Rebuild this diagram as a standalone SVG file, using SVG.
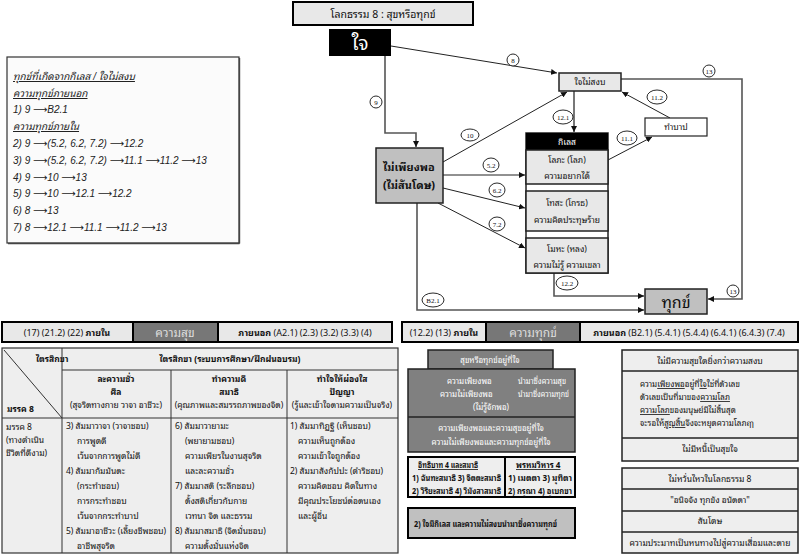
<svg xmlns="http://www.w3.org/2000/svg" width="801" height="559" viewBox="0 0 801 559">
<style>
text{font-family:"Noto Sans Thai Looped","Noto Sans Thai","Tahoma","DejaVu Sans","Liberation Sans",sans-serif;font-size:8.5px;fill:#111}
.c{text-anchor:middle}
.b{font-weight:bold}
.it{font-style:italic;font-family:"Liberation Sans","Noto Sans Thai Looped","Noto Sans Thai",sans-serif;font-size:10px;fill:#222}
.ar{font-family:"DejaVu Sans",sans-serif;font-style:normal}
.u{text-decoration:underline}
.w{fill:#fff}
.s8{font-size:8px}
.lg{fill:#e8e8e8;stroke:#222;stroke-width:1.5}
.mg{fill:#c0c0c0;stroke:#222;stroke-width:1.5}
.dg{fill:#808080;stroke:#222;stroke-width:1.5}
.bn{fill:#e8e8e8;stroke:#000;stroke-width:2}
.tb{fill:#eeeeee;stroke:#333;stroke-width:1.2}
.ln{stroke:#333;stroke-width:1}
.cn{fill:none;stroke:#222;stroke-width:1;marker-end:url(#ah)}
.cg{fill:none;stroke:#555;stroke-width:1.6;marker-end:url(#ah)}
.lb ellipse{fill:#fff;stroke:#111;stroke-width:0.9}
.lb text{font-family:"Liberation Serif",serif;font-size:7px;text-anchor:middle}
</style>
<defs>
<marker id="ah" viewBox="0 0 10 10" refX="10" refY="5" markerWidth="6" markerHeight="6" markerUnits="userSpaceOnUse" orient="auto">
<path d="M0,0 L10,5 L0,10 z" fill="#111"/>
</marker>
</defs>
<rect x="0" y="0" width="801" height="559" fill="#fff"/>

<g id="title"><rect x="293" y="2" width="180" height="23" class="bn"/><text x="383" y="18" class="c" style="font-size:10.5px">โลกธรรม 8 : สุขหรือทุกข์</text></g>

<g id="legend">
<rect x="7" y="57" width="232" height="186" fill="#fbfbfb" stroke="#333" stroke-width="1.2"/>
<line x1="239.5" y1="58" x2="239.5" y2="243.5" stroke="#444" stroke-width="1.4"/>
<line x1="8" y1="243.5" x2="239.5" y2="243.5" stroke="#444" stroke-width="1.4"/>
<text x="13" y="80" class="it u">ทุกข์ที่เกิดจากกิเลส / ใจไม่สงบ</text>
<text x="13" y="97" class="it u">ความทุกข์ภายนอก</text>
<text x="13" y="113" class="it">1)  9 <tspan class="ar">⟶</tspan>B2.1</text>
<text x="13" y="130" class="it u">ความทุกข์ภายใน</text>
<text x="13" y="147" class="it">2)  9 <tspan class="ar">⟶</tspan>(5.2,  6.2,  7.2) <tspan class="ar">⟶</tspan>12.2</text>
<text x="13" y="164" class="it">3)  9 <tspan class="ar">⟶</tspan>(5.2,  6.2,  7.2) <tspan class="ar">⟶</tspan>11.1 <tspan class="ar">⟶</tspan>11.2 <tspan class="ar">⟶</tspan>13</text>
<text x="13" y="181" class="it">4)  9 <tspan class="ar">⟶</tspan>10 <tspan class="ar">⟶</tspan>13</text>
<text x="13" y="197" class="it">5)  9 <tspan class="ar">⟶</tspan>10 <tspan class="ar">⟶</tspan>12.1 <tspan class="ar">⟶</tspan>12.2</text>
<text x="13" y="214" class="it">6)  8 <tspan class="ar">⟶</tspan>13</text>
<text x="13" y="231" class="it">7)  8 <tspan class="ar">⟶</tspan>12.1 <tspan class="ar">⟶</tspan>11.1 <tspan class="ar">⟶</tspan>11.2 <tspan class="ar">⟶</tspan>13</text>
</g>

<g id="connectors">
<line x1="391" y1="46" x2="557" y2="73" class="cn"/>
<polyline points="385,56 385,133 416,133 416,147" class="cg"/>
<line x1="443" y1="162" x2="567" y2="92" class="cn"/>
<line x1="608" y1="160" x2="652" y2="137" class="cn"/>
<line x1="670" y1="118" x2="622" y2="92" class="cn"/>
<line x1="574" y1="91" x2="574" y2="132" class="cg"/>
<line x1="443" y1="175" x2="525" y2="175" class="cn"/>
<line x1="443" y1="188" x2="525" y2="208" class="cn"/>
<line x1="438" y1="203" x2="525" y2="248" class="cn"/>
<polyline points="554,273 554,296 644,296" class="cg"/>
<polyline points="417,203 417,310 644,310" class="cg"/>
<polyline points="621,79 742,79 742,299 708,299" class="cg"/>
<g class="lb">
<ellipse cx="513" cy="60" rx="6" ry="6"/><text x="513" y="62.5">8</text>
<ellipse cx="376" cy="102" rx="6" ry="6"/><text x="376" y="104.5">9</text>
<ellipse cx="470" cy="135" rx="9" ry="6"/><text x="470" y="137.5">10</text>
<ellipse cx="657" cy="97" rx="10" ry="7"/><text x="657" y="99.5">11.2</text>
<ellipse cx="563" cy="117" rx="10" ry="7"/><text x="563" y="119.5">12.1</text>
<ellipse cx="627" cy="138" rx="10" ry="7"/><text x="627" y="140.5">11.1</text>
<ellipse cx="491" cy="165" rx="8" ry="7"/><text x="491" y="167.5">5.2</text>
<ellipse cx="497" cy="190" rx="8" ry="7"/><text x="497" y="192.5">6.2</text>
<ellipse cx="497" cy="224" rx="8" ry="7"/><text x="497" y="226.5">7.2</text>
<ellipse cx="567" cy="283" rx="11" ry="7"/><text x="567" y="285.5">12.2</text>
<ellipse cx="433" cy="300" rx="11" ry="7"/><text x="433" y="302.5">B2.1</text>
<ellipse cx="709" cy="71" rx="6" ry="6"/><text x="709" y="73.5">13</text>
<ellipse cx="733" cy="291" rx="6" ry="6"/><text x="733" y="293.5">13</text>
</g>
</g>

<g id="jai"><rect x="329" y="29" width="62" height="27" fill="#000"/><text x="360" y="50" class="c w" style="font-size:19px">ใจ</text></g>
<g id="jaimaisangob"><rect x="559" y="73" width="62" height="18" class="lg"/><text x="590" y="85" class="c">ใจไม่สงบ</text></g>
<g id="thambap"><rect x="645" y="118" width="62" height="18" fill="#fff" stroke="#222" stroke-width="1.2"/><text x="676" y="130" class="c">ทำบาป</text></g>
<g id="kilet">
<rect x="526" y="133" width="82" height="140" fill="#fff" stroke="#222" stroke-width="1.5"/>
<rect x="526" y="133" width="82" height="17" fill="#000"/><text x="567" y="145" class="c w">กิเลส</text>
<rect x="526" y="150" width="82" height="34" class="lg"/><text x="567" y="163" class="c">โลภะ (โลภ)</text><text x="567" y="179" class="c">ความอยากได้</text>
<rect x="526" y="191" width="82" height="40" class="lg"/><text x="567" y="206" class="c">โทสะ (โกรธ)</text><text x="567" y="223" class="c">ความคิดประทุษร้าย</text>
<rect x="526" y="238" width="82" height="35" class="lg"/><text x="567" y="252" class="c">โมหะ (หลง)</text><text x="567" y="268" class="c">ความไม่รู้ ความเขลา</text>
</g>
<g id="maipiangpor"><rect x="376" y="148" width="67" height="55" class="mg"/><text x="409" y="171" class="c b" style="font-size:11px">ไม่เพียงพอ</text><text x="409" y="189" class="c b" style="font-size:11px">(ไม่สันโดษ)</text></g>
<g id="thuk"><rect x="645" y="289" width="62" height="25" class="mg"/><text x="676" y="308" class="c" style="font-size:16px">ทุกข์</text></g>

<g id="banner-suk">
<rect x="2" y="322" width="131" height="20" class="bn"/><text x="67" y="336" class="c" style="font-size:9px">(17) (21.2) (22) <tspan class="b">ภายใน</tspan></text>
<rect x="133" y="322" width="85" height="20" fill="#777" stroke="#000" stroke-width="2"/><text x="175" y="337" class="c" style="font-size:12px;fill:#ddd">ความสุข</text>
<rect x="218" y="322" width="174" height="20" class="bn"/><text x="305" y="336" class="c" style="font-size:9px"><tspan class="b">ภายนอก</tspan> (A2.1) (2.3) (3.2) (3.3) (4)</text>
</g>

<g id="table">
<rect x="2" y="348" width="396" height="205" class="tb"/>
<line x1="62" y1="348" x2="62" y2="553" class="ln"/>
<line x1="62" y1="370" x2="398" y2="370" class="ln"/>
<line x1="2" y1="418" x2="398" y2="418" class="ln"/>
<line x1="171" y1="370" x2="171" y2="553" class="ln"/>
<line x1="287" y1="370" x2="287" y2="553" class="ln"/>
<line x1="4" y1="350" x2="62" y2="418" class="ln"/>
<text x="36" y="362" class="b">ไตรสิกขา</text>
<text x="7" y="412" class="b">มรรค 8</text>
<text x="230" y="362" class="c b">ไตรสิกขา (ระบบการศึกษา/ฝึกฝนอบรม)</text>
<text x="116" y="382" class="c b">ละความชั่ว</text><text x="116" y="395" class="c b">ศีล</text><text x="116" y="408" class="c">(สุจริตทางกาย วาจา อาชีวะ)</text>
<text x="229" y="382" class="c b">ทำความดี</text><text x="229" y="395" class="c b">สมาธิ</text><text x="229" y="408" class="c">(คุณภาพและสมรรถภาพของจิต)</text>
<text x="342" y="382" class="c b">ทำใจให้ผ่องใส</text><text x="342" y="395" class="c b">ปัญญา</text><text x="342" y="408" class="c">(รู้และเข้าใจตามความเป็นจริง)</text>
<text x="6" y="430">มรรค 8</text><text x="6" y="443">(ทางดำเนิน</text><text x="6" y="456">ชีวิตที่ดีงาม)</text>
<text x="66" y="429">3) สัมมาวาจา (วาจาชอบ)</text>
<text x="77" y="444">การพูดดี</text>
<text x="77" y="459">เว้นจากการพูดไม่ดี</text>
<text x="66" y="474">4) สัมมากัมมันตะ</text>
<text x="77" y="489">(กระทำชอบ)</text>
<text x="77" y="504">การกระทำชอบ</text>
<text x="77" y="519">เว้นจากกระทำบาป</text>
<text x="66" y="534">5) สัมมาอาชีวะ (เลี้ยงชีพชอบ)</text>
<text x="77" y="549">อาชีพสุจริต</text>
<text x="175" y="429">6) สัมมาวายามะ</text>
<text x="185" y="444">(พยายามชอบ)</text>
<text x="185" y="459">ความเพียรในงานสุจริต</text>
<text x="185" y="474">และละความชั่ว</text>
<text x="175" y="489">7) สัมมาสติ  (ระลึกชอบ)</text>
<text x="185" y="504">ตั้งสติเกี่ยวกับกาย</text>
<text x="185" y="519">เวทนา จิต และธรรม</text>
<text x="175" y="534">8) สัมมาสมาธิ (จิตมั่นชอบ)</text>
<text x="185" y="549">ความตั้งมั่นแห่งจิต</text>
<text x="290" y="429">1) สัมมาทิฏฐิ (เห็นชอบ)</text>
<text x="298" y="444">ความเห็นถูกต้อง</text>
<text x="298" y="459">ความเข้าใจถูกต้อง</text>
<text x="290" y="474">2) สัมมาสังกัปปะ (ดำริชอบ)</text>
<text x="298" y="489">ความคิดชอบ คิดในทาง</text>
<text x="298" y="504">มีคุณประโยชน์ต่อตนเอง</text>
<text x="298" y="519">และผู้อื่น</text>
</g>

<g id="banner-thuk">
<rect x="402" y="322" width="84" height="20" class="bn"/><text x="444" y="336" class="c" style="font-size:9px">(12.2) (13) <tspan class="b">ภายใน</tspan></text>
<rect x="486" y="322" width="94" height="20" fill="#777" stroke="#000" stroke-width="2"/><text x="533" y="337" class="c" style="font-size:12px;fill:#ddd">ความทุกข์</text>
<rect x="580" y="322" width="218" height="20" class="bn"/><text x="689" y="336" class="c" style="font-size:9px"><tspan class="b">ภายนอก</tspan> (B2.1) (5.4.1)  (5.4.4) (6.4.1) (6.4.3) (7.4)</text>
</g>

<g id="sukthuk-jai">
<rect x="428" y="350" width="125" height="19" class="dg"/><text x="490" y="363" class="c w s8">สุขหรือทุกข์อยู่ที่ใจ</text>
<rect x="408" y="369" width="167" height="83" class="dg"/>
<line x1="408" y1="417" x2="575" y2="417" stroke="#222" stroke-width="1.5"/>
<text x="447" y="384" class="w s8">ความเพียงพอ</text><text x="518" y="384" class="w s8" textLength="48" lengthAdjust="spacingAndGlyphs">นำมาซึ่งความสุข</text>
<text x="440" y="397" class="w s8">ความไม่เพียงพอ</text><text x="518" y="397" class="w s8" textLength="51" lengthAdjust="spacingAndGlyphs">นำมาซึ่งความทุกข์</text>
<text x="491" y="410" class="c w s8">(ไม่รู้จักพอ)</text>
<text x="491" y="431" class="c w s8">ความเพียงพอและความสุขอยู่ที่ใจ</text>
<text x="491" y="445" class="c w s8">ความไม่เพียงพอและความทุกข์อยู่ที่ใจ</text>
</g>

<g id="itthibat">
<rect x="408" y="457" width="97" height="40" fill="#eeeeee" stroke="#000" stroke-width="2"/>
<text x="418" y="468" class="b u s8" textLength="60" lengthAdjust="spacingAndGlyphs">อิทธิบาท 4 และสมาธิ</text>
<text x="412" y="481" class="b s8" textLength="89" lengthAdjust="spacingAndGlyphs">1) ฉันทะสมาธิ  3) จิตตะสมาธิ</text>
<text x="412" y="494" class="b s8" textLength="89" lengthAdjust="spacingAndGlyphs">2) วิริยะสมาธิ  4) วิมังสาสมาธิ</text>
</g>
<g id="phrommawihan">
<rect x="505" y="457" width="70" height="40" fill="#eeeeee" stroke="#000" stroke-width="2"/>
<text x="516" y="468" class="b u s8">พรหมวิหาร 4</text>
<text x="508" y="481" class="b s8" textLength="64" lengthAdjust="spacingAndGlyphs">1) เมตตา  3) มุทิตา</text>
<text x="508" y="494" class="b s8" textLength="64" lengthAdjust="spacingAndGlyphs">2) กรุณา  4) อุเบกขา</text>
</g>
<g id="kilet-note">
<rect x="408" y="508" width="167" height="30" fill="#c0c0c0" stroke="#000" stroke-width="2"/>
<text x="414" y="527" class="b s8" textLength="143" lengthAdjust="spacingAndGlyphs">2)  ใจมีกิเลส และความไม่สงบนำมาซึ่งความทุกข์</text>
</g>

<g id="sangob">
<rect x="622" y="350" width="176" height="111" fill="#eeeeee" stroke="#222" stroke-width="1.5"/>
<line x1="622" y1="371" x2="798" y2="371" stroke="#222" stroke-width="1.5"/>
<line x1="622" y1="438" x2="798" y2="438" stroke="#222" stroke-width="1.5"/>
<text x="710" y="364" class="c">ไม่มีความสุขใดยิ่งกว่าความสงบ</text>
<text x="640" y="387" class="s8">ความ<tspan class="u">เพียงพอ</tspan>อยู่ที่<tspan class="u">ใจ</tspan>ใช่ที่ตัวเลข</text>
<text x="640" y="400" class="s8">ตัวเลขเป็นที่มาของ<tspan class="u">ความโลภ</tspan></text>
<text x="640" y="413" class="s8"><tspan class="u">ความโลภ</tspan>ของมนุษย์มีไม่สิ้นสุด</text>
<text x="640" y="426" class="s8">จะรอให้<tspan class="u">สูญสิ้น</tspan>จึงจะหยุดความโลภฤๅ</text>
<text x="710" y="452" class="c">ไม่มีหนี้เป็นสุขใจ</text>
</g>

<g id="lokatham">
<rect x="622" y="468" width="176" height="85" fill="#eeeeee" stroke="#222" stroke-width="1.5"/>
<line x1="622" y1="489" x2="798" y2="489" stroke="#222" stroke-width="1.5"/>
<line x1="622" y1="511" x2="798" y2="511" stroke="#222" stroke-width="1.5"/>
<line x1="622" y1="532" x2="798" y2="532" stroke="#222" stroke-width="1.5"/>
<text x="710" y="482" class="c">ไม่หวั่นไหวในโลกธรรม 8</text>
<text x="710" y="503" class="c">"อนิจจัง ทุกขัง อนัตตา"</text>
<text x="710" y="524" class="c">สันโดษ</text>
<text x="710" y="546" class="c">ความประมาทเป็นหนทางไปสู่ความเสื่อมและตาย</text>
</g>
</svg>
